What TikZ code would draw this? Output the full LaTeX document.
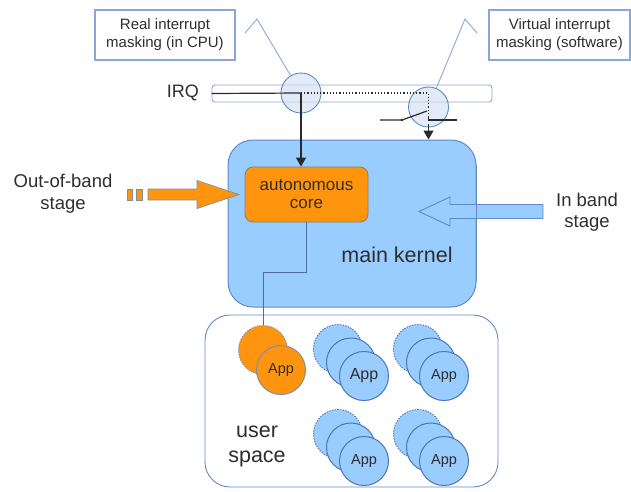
\documentclass[tikz,border=0pt]{standalone}
\usepackage{fontspec}
\setmainfont{Liberation Sans}
\usetikzlibrary{arrows.meta,calc}

\definecolor{kblue}{HTML}{99CCFF}
\definecolor{kedge}{HTML}{5E8AC6}
\definecolor{cedge}{HTML}{4C76B3}
\definecolor{ledge}{HTML}{8AA7D8}
\definecolor{orng}{HTML}{FF950E}
\definecolor{oedge}{HTML}{7D8FA6}
\definecolor{coreedge}{HTML}{8F7D66}
\definecolor{txt}{HTML}{2E2E2E}
\definecolor{wire}{HTML}{2A2A2A}
\definecolor{linkwire}{HTML}{4D6E99}
\definecolor{maskfill}{HTML}{D2E0F2}

\tikzset{
  fs/.style 2 args={font=\fontsize{#1}{#2}\selectfont},
  label text/.style={text=txt, align=center, inner sep=0pt},
  notebox/.style={draw=ledge, line width=1.2pt, fill=white, label text,
    minimum width=140pt, minimum height=50pt, fs={15}{18}},
  maskring/.style={circle, draw=kedge, line width=0.9pt, fill=maskfill,
    fill opacity=0.65, minimum size=40pt, inner sep=0pt},
  pointer/.style={draw=ledge, line width=0.9pt},
  wireline/.style={draw=wire, line width=1.2pt},
  blocktip/.style={-{Triangle[length=9pt,width=10pt]}},
  appback/.style={circle, draw=cedge, line width=0.9pt, dash pattern=on 1.5pt off 1.2pt,
    fill=kblue, minimum size=49pt, inner sep=0pt},
  appfront/.style={circle, draw=cedge, line width=1pt, fill=kblue,
    minimum size=49pt, inner sep=0pt, label text, fs={14.5}{17}},
}

\begin{document}
\begin{tikzpicture}[x=1pt,y=-1pt]
\useasboundingbox (0,0) rectangle (631,491);

% captions of the two masking points
\node[notebox] (realbox) at (165,35) {Real interrupt\\masking (in CPU)};
\node[notebox, minimum width=141pt] (virtbox) at (559.5,35) {Virtual interrupt\\masking (software)};

% IRQ line
\node[label text, fs={18}{18}, anchor=east] (irqlabel) at (199,93) {IRQ};
\node[draw=ledge, line width=0.9pt, fill=white, rounded corners=3pt,
      minimum width=280pt, minimum height=17pt, inner sep=0pt] (irqbar) at (352,93.5) {};

% main kernel and autonomous core
\node[draw=kedge, line width=1pt, fill=kblue, rounded corners=25pt,
      minimum width=248pt, minimum height=167pt, inner sep=0pt] (kernel) at (352,223.5) {};
\node[label text, fs={21.5}{22}] (kernlabel) at (397,255) {main kernel};

% in band stage arrow
\filldraw[fill=kblue, draw=kedge, line width=0.9pt]
  (543,204.5) -- (450,204.5) -- (450,197) -- (419,211.5) -- (450,226) -- (450,218.5) -- (543,218.5) -- cycle;
\draw[kedge, line width=1pt] (kernel.north east) ++(0,25) -- ++(0,117);
\node[label text, fs={18.5}{21}] (inband) at (587,212) {In band\\stage};

\node[draw=coreedge, line width=0.9pt, fill=orng, rounded corners=8pt,
      minimum width=123pt, minimum height=55pt, label text, fs={17}{18}] (core) at (306.5,194.5)
      {autonomous\\core};

% out-of-band stage arrow
\filldraw[fill=orng, draw=oedge, line width=0.7pt]
  (148,189) -- (197,189) -- (197,180.5) -- (239,194.5) -- (197,208.5) -- (197,200) -- (148,200) -- cycle;
\filldraw[fill=orng, draw=oedge, line width=0.7pt] (127,189) rectangle (132.5,200);
\filldraw[fill=orng, draw=oedge, line width=0.7pt] (136.5,189) rectangle (142,200);
\node[label text, fs={18.5}{22}] (outband) at (63,194) {Out-of-band\\stage};

% masking rings on the IRQ line
\node[maskring] (rmask) at (301,93) {};
\node[maskring] (vmask) at (428.5,107) {};

% pointers from the captions to the rings
\coordinate (rpeak) at (257,19);
\coordinate (vpeak) at (465,19);
\draw[pointer] (245,33) -- (rpeak) -- (rmask);
\draw[pointer] (477,33) -- (vpeak) -- (vmask);

% interrupt path: real masking feeds the core directly
\draw[wireline] (irqbar.west) -- (rmask.center);
\draw[wireline, blocktip] (rmask.center) -- (rmask.center |- core.north);

% virtual masking: dotted route through the software switch
\coordinate (vturn) at (vmask.center |- rmask.center);
\coordinate (swL) at (380,120);
\coordinate (swP) at (402,120);
\coordinate (swT) at (427,111);
\coordinate (swC) at (428.5,120);
\coordinate (swR) at (457,120);
\draw[wireline, dotted, line width=1.1pt] (rmask.center) -- (vturn) -- ($(swC)+(0,-3)$);
\draw[wireline] (swL) -- (swP) -- (swT);
\fill[wire] (swP) circle (1.3pt);
\draw[wireline] ($(swC)+(0,-3)$) -- (swC) -- (swR);
\draw[wireline, blocktip] ($(swC)+(0,4)$) -- (swC |- kernel.north);

% user space
\node[draw=kedge, line width=0.9pt, fill=white, rounded corners=25pt,
      minimum width=293pt, minimum height=172pt, inner sep=0pt] (user) at (351.5,401) {};
\node[label text, fs={21.5}{25}] (userlabel) at (257,446) {user\\space};

% orange application bound to the core
\node[appback, fill=orng, draw=oedge] (oback) at (263,350) {};
\node[appfront, fill=orng, draw=oedge] (ofront) at (281,370) {App};
\draw[draw=linkwire, line width=1pt] (core.south) -- ++(0,50) -| (oback.north);

% regular applications, three instances each
\foreach \gx/\gy/\gn/\gs in {338/349/a/16, 418/349/b/14.5, 338/434/c/14.5, 418/434/d/14.5} {
  \node[appback] (back\gn) at (\gx,\gy) {};
  \node[appfront] (mid\gn) at (\gx+13,\gy+13.5) {};
  \node[appfront, fs={\gs}{17}] (front\gn) at (\gx+26,\gy+27) {App};
}
\end{tikzpicture}
\end{document}
